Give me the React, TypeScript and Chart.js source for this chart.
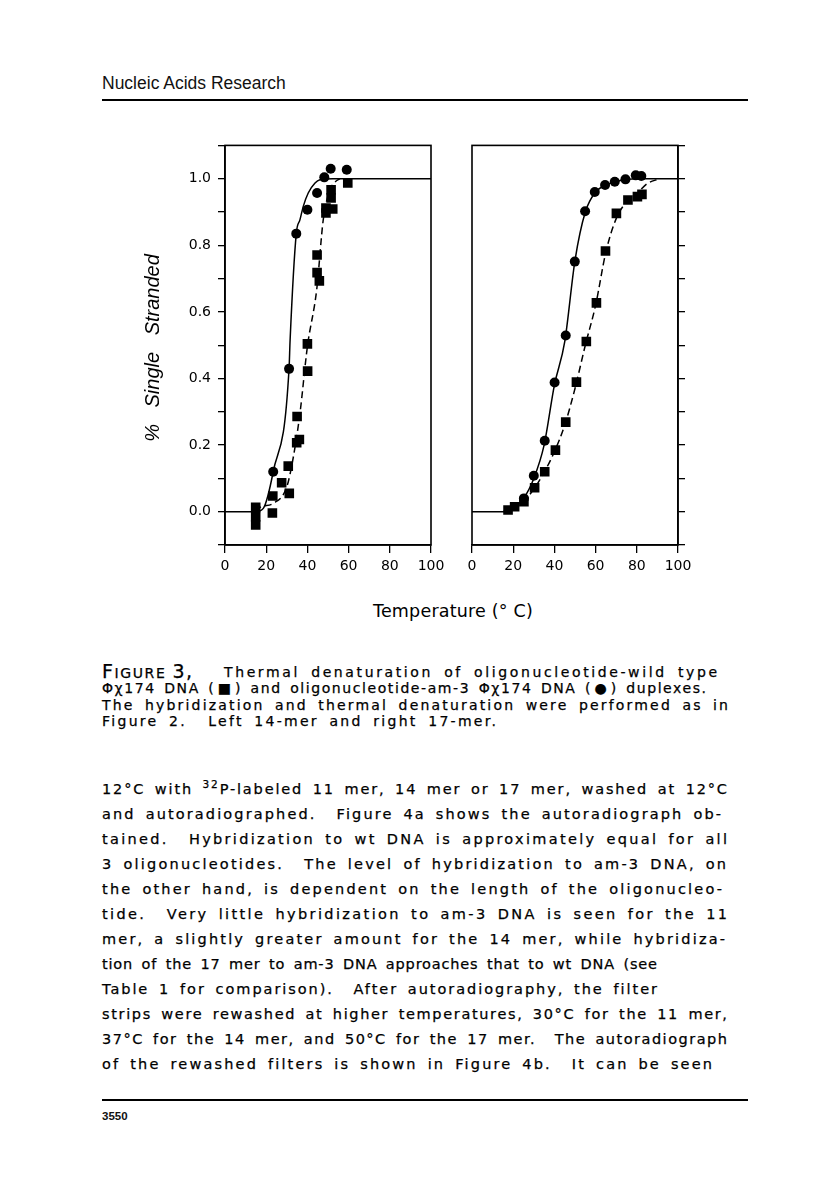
import React, { useEffect, useLayoutEffect, useRef } from 'react';
import { Chart, registerables } from 'chart.js';

Chart.register(...registerables);

// ---------- data ----------
const xTickStep = 20;
const yTickLabels = ['0.0', '0.2', '0.4', '0.6', '0.8', '1.0'];

// Left panel (14-mer)
const leftAm3X = [59.1, 51.3, 48.2, 44.7, 40.0, 34.6, 31.1, 23.4];
const leftAm3Y = [1.027, 1.03, 1.004, 0.957, 0.907, 0.835, 0.429, 0.12];
const leftWtX = [59.6, 51.5, 51.5, 49.0, 52.3, 49.0, 44.7, 44.7, 45.8, 40.0, 40.1, 35.0, 36.1, 34.8, 30.7, 27.5, 23.2, 31.2, 23.0, 14.9, 14.9, 14.9];
const leftWtY = [0.987, 0.967, 0.942, 0.912, 0.909, 0.897, 0.771, 0.718, 0.693, 0.504, 0.422, 0.286, 0.217, 0.207, 0.137, 0.087, 0.047, 0.055, -0.004, 0.013, -0.015, -0.04];
const leftAm3CurveX = [0, 15, 18.6, 23.4, 31.1, 31.6, 34.6, 36.4, 38.0, 40.4, 43.7, 46.1, 52.4, 100];
const leftAm3CurveY = [0, 0, 0.01, 0.12, 0.43, 0.515, 0.835, 0.877, 0.917, 0.957, 0.987, 0.997, 1.0, 1.0];
const leftWtCurveX = [15, 17, 23.4, 30, 33.2, 36.4, 40, 44.5, 47.7, 51, 53.4, 55.8];
const leftWtCurveY = [0, 0.013, 0.025, 0.075, 0.165, 0.296, 0.496, 0.666, 0.877, 0.967, 0.99, 1.0];

// Right panel (17-mer)
const rightAm3X = [82.2, 79.5, 74.5, 69.3, 64.6, 59.6, 54.9, 49.9, 45.5, 40.1, 35.3, 30.0, 25.2];
const rightAm3Y = [1.008, 1.01, 0.998, 0.991, 0.981, 0.96, 0.902, 0.751, 0.529, 0.388, 0.213, 0.108, 0.04];
const rightWtX = [82.5, 80.3, 75.7, 70.1, 64.8, 60.4, 55.5, 50.7, 45.5, 40.5, 35.3, 30.4, 25.2, 20.7, 17.5];
const rightWtY = [0.953, 0.946, 0.936, 0.896, 0.783, 0.627, 0.511, 0.389, 0.269, 0.185, 0.12, 0.072, 0.03, 0.015, 0.005];
const rightAm3CurveX = [0, 15, 20, 25, 30, 35, 40, 45, 50, 55, 60, 65, 70, 75, 82, 100];
const rightAm3CurveY = [0, 0, 0.012, 0.04, 0.1, 0.2, 0.38, 0.51, 0.755, 0.9, 0.96, 0.981, 0.991, 0.998, 1.0, 1.0];
const rightWtCurveX = [15, 20, 25, 30, 35, 40, 45, 50, 55, 60, 65, 70, 75, 80, 85, 91];
const rightWtCurveY = [0, 0.012, 0.03, 0.068, 0.118, 0.18, 0.26, 0.37, 0.5, 0.62, 0.78, 0.88, 0.93, 0.955, 0.985, 1.0];

// Caption lines: [text, left, right]
const captionLines: [string, number, number][] = [
  ['Thermal denaturation of oligonucleotide-wild type', 224, 717],
  ['\u03A6\u03C7174 DNA (\u25A0) and oligonucleotide-am-3 \u03A6\u03C7174 DNA (\u25CF) duplexes.', 102, 706],
  ['The hybridization and thermal denaturation were performed as in', 102, 728],
  ['Figure 2. \u00A0Left 14-mer and right 17-mer.', 102, 496],
];

// Body lines: [text, right edge]
const bodyLines: [string, number][] = [
  ['and autoradiographed. \u00A0Figure 4a shows the autoradiograph ob-', 721],
  ['tained. \u00A0Hybridization to wt DNA is approximately equal for all', 727],
  ['3 oligonucleotides. \u00A0The level of hybridization to am-3 DNA, on', 726],
  ['the other hand, is dependent on the length of the oligonucleo-', 722],
  ['tide. \u00A0Very little hybridization to am-3 DNA is seen for the 11', 727],
  ['mer, a slightly greater amount for the 14 mer, while hybridiza-', 725],
  ['tion of the 17 mer to am-3 DNA approaches that to wt DNA (see', 657],
  ['Table 1 for comparison). \u00A0After autoradiography, the filter', 657],
  ['strips were rewashed at higher temperatures, 30\u00B0C for the 11 mer,', 727],
  ['37\u00B0C for the 14 mer, and 50\u00B0C for the 17 mer. \u00A0The autoradiograph', 727],
  ['of the rewashed filters is shown in Figure 4b. \u00A0It can be seen', 712],
];

// ---------- helpers ----------
const FONT = "'DejaVu Sans', sans-serif";
const TYPE_FONT = "'DejaVu Sans', sans-serif";

const zip = (xs: number[], ys: number[]) => xs.map((x, i) => ({ x, y: ys[i] }));

const framePlugin = {
  id: 'frame',
  afterDatasetsDraw(chart: any) {
    const { ctx, chartArea: a } = chart;
    ctx.save();
    ctx.strokeStyle = '#000';
    ctx.lineWidth = 1.6;
    ctx.strokeRect(a.left, a.top, a.right - a.left, a.bottom - a.top);
    ctx.restore();
  },
};

function buildConfig(
  am3X: number[], am3Y: number[], wtX: number[], wtY: number[],
  am3CX: number[], am3CY: number[], wtCX: number[], wtCY: number[],
  side: 'left' | 'right'
): any {
  const isLeft = side === 'left';
  return {
    type: 'scatter',
    data: {
      datasets: [
        {
          data: zip(am3CX, am3CY), showLine: true, pointRadius: 0, borderColor: '#000',
          borderWidth: 1.5, cubicInterpolationMode: 'monotone', order: 2,
        },
        {
          data: zip(wtCX, wtCY), showLine: true, pointRadius: 0, borderColor: '#000',
          borderWidth: 1.5, borderDash: [7, 4], cubicInterpolationMode: 'monotone', order: 2,
        },
        {
          data: zip(wtX, wtY), pointStyle: 'rect', pointRadius: 6.8, backgroundColor: '#000',
          borderWidth: 0, order: 1,
        },
        {
          data: zip(am3X, am3Y), pointStyle: 'circle', pointRadius: 5, backgroundColor: '#000',
          borderWidth: 0, order: 1,
        },
      ],
    },
    options: {
      responsive: false,
      animation: false,
      events: [],
      layout: isLeft
        ? { padding: { top: 15, right: 19, left: 0, bottom: 0 } }
        : { padding: { top: 15, right: 0, left: 12, bottom: 0 } },
      plugins: { legend: { display: false }, tooltip: { enabled: false }, title: { display: false } },
      scales: {
        x: {
          type: 'linear', min: 0, max: 100, position: 'bottom',
          ticks: {
            stepSize: xTickStep, color: '#000', font: { family: FONT, size: 14 }, padding: 5,
            maxRotation: 0, autoSkip: false, callback: (v: number) => String(v),
          },
          grid: { display: true, drawOnChartArea: false, drawTicks: true, tickLength: 8, color: '#000', lineWidth: 1.3 },
          border: { display: true, color: '#000', width: 1.6 },
          afterFit: (s: any) => { s.height = 35; },
        },
        y: {
          type: 'linear', min: -0.1, max: 1.1, position: side,
          ticks: {
            stepSize: 0.1, color: '#000', font: { family: FONT, size: 14 }, padding: 7, autoSkip: false,
            callback: (v: number) => {
              if (!isLeft) return '';
              const k = Math.round(v * 10);
              if (k >= 0 && k <= 10 && k % 2 === 0) return yTickLabels[k / 2];
              return '';
            },
          },
          grid: { display: true, drawOnChartArea: false, drawTicks: true, tickLength: 7, color: '#000', lineWidth: 1.3 },
          border: { display: true, color: '#000', width: 1.6 },
          afterFit: (s: any) => { s.width = isLeft ? 75 : 32; },
        },
      },
    },
    plugins: [framePlugin],
  };
}

// A typewritten line: spacing fitted so that the line spans [left, right]
function TypeLine(props: { left: number; right: number; top: number; lh: number; size: number; gap?: number; children: any }) {
  const divRef = useRef<HTMLDivElement>(null);
  const spanRef = useRef<HTMLSpanElement>(null);
  const { left, right, top, lh, size, gap = 3 } = props;
  useLayoutEffect(() => {
    const d = divRef.current as HTMLDivElement;
    const s = spanRef.current as HTMLSpanElement;
    d.style.letterSpacing = '0px';
    d.style.textAlignLast = 'left';
    d.style.width = 'auto';
    const w0 = s.getBoundingClientRect().width;
    const text = s.textContent || '';
    const n = text.length;
    const nSp = (text.match(/[ \u00A0]/g) || []).length;
    const target = right - left;
    let ls = (target - w0 - nSp * gap) / n;
    if (ls < 0.2) ls = 0.2;
    d.style.letterSpacing = ls + 'px';
    d.style.width = (target + ls) + 'px';
    d.style.textAlign = 'justify';
    d.style.textAlignLast = 'justify';
  }, []);
  return (
    <div ref={divRef} style={{
      position: 'absolute', left, top, lineHeight: lh + 'px', fontFamily: TYPE_FONT, fontSize: size,
      color: '#000', whiteSpace: 'nowrap', WebkitTextStroke: '0.25px #000',
    }}>
      <span ref={spanRef}>{props.children}</span>
    </div>
  );
}

export default function App() {
  const leftRef = useRef<HTMLCanvasElement>(null);
  const rightRef = useRef<HTMLCanvasElement>(null);

  useEffect(() => {
    const c1 = new Chart(leftRef.current as HTMLCanvasElement, buildConfig(
      leftAm3X, leftAm3Y, leftWtX, leftWtY, leftAm3CurveX, leftAm3CurveY, leftWtCurveX, leftWtCurveY, 'left'));
    const c2 = new Chart(rightRef.current as HTMLCanvasElement, buildConfig(
      rightAm3X, rightAm3Y, rightWtX, rightWtY, rightAm3CurveX, rightAm3CurveY, rightWtCurveX, rightWtCurveY, 'right'));
    return () => { c1.destroy(); c2.destroy(); };
  }, []);

  const capTop = 664;
  const capStep = 16.4;
  const bodyTop = 777;
  const bodyStep = 25;

  return (
    <div style={{ position: 'absolute', left: 0, top: 0, width: 816, height: 1194, background: '#fff', overflow: 'hidden' }}>
      <div style={{ position: 'absolute', left: 102, top: 73.5, fontFamily: "'Liberation Sans', Arial, sans-serif", fontSize: 17.5, lineHeight: '18px', color: '#111', whiteSpace: 'nowrap' }}>
        Nucleic Acids Research
      </div>
      <div style={{ position: 'absolute', left: 102, top: 98.5, width: 646, height: 2, background: '#000' }} />

      <canvas ref={leftRef} width={300} height={450} style={{ position: 'absolute', left: 150, top: 130 }} />
      <canvas ref={rightRef} width={250} height={450} style={{ position: 'absolute', left: 460, top: 130 }} />

      <div style={{
        position: 'absolute', left: 152.4 - 120, top: 348 - 12, width: 240, height: 24, lineHeight: '24px',
        textAlign: 'center', fontFamily: "'Liberation Sans', Arial, sans-serif", fontStyle: 'italic', fontSize: 20,
        wordSpacing: '11px', transform: 'rotate(-90deg)', whiteSpace: 'nowrap', color: '#000',
      }}>
        % Single Stranded
      </div>

      <div style={{
        position: 'absolute', left: 453 - 120, top: 601, width: 240, lineHeight: '20px', textAlign: 'center',
        fontFamily: FONT, fontSize: 17.5, letterSpacing: '0.2px', color: '#000', whiteSpace: 'nowrap',
      }}>
        Temperature (° C)
      </div>

      {/* caption */}
      <div style={{ position: 'absolute', left: 102, top: 662, lineHeight: '18px', fontFamily: TYPE_FONT, letterSpacing: '1.6px', whiteSpace: 'nowrap', color: '#000', WebkitTextStroke: '0.25px #000' }}>
        <span style={{ fontSize: 19 }}>F</span><span style={{ fontSize: 14 }}>IGURE</span>
        <span style={{ fontSize: 14 }}>{'\u00A0'}</span><span style={{ fontSize: 19 }}>3,</span>
      </div>
      {captionLines.map(([t, l, r], i) => (
        <TypeLine key={'c' + i} left={l} right={r} top={capTop + capStep * i} lh={16.5} size={14} gap={3.5}>{t}</TypeLine>
      ))}

      {/* body text */}
      <TypeLine left={102} right={727} top={bodyTop} lh={25} size={14.5} gap={3}>
        12°C with <sup style={{ fontSize: 10.5, lineHeight: 0, verticalAlign: 'baseline', position: 'relative', top: -6 }}>32</sup>P-labeled 11 mer, 14 mer or 17 mer, washed at 12°C
      </TypeLine>
      {bodyLines.map(([t, r], i) => (
        <TypeLine key={'b' + i} left={102} right={r} top={bodyTop + bodyStep * (i + 1)} lh={25} size={14.5} gap={3}>{t}</TypeLine>
      ))}

      <div style={{ position: 'absolute', left: 102, top: 1099, width: 646, height: 1.5, background: '#000' }} />
      <div style={{ position: 'absolute', left: 102, top: 1110, fontFamily: "'Liberation Sans', Arial, sans-serif", fontWeight: 'bold', fontSize: 11.5, lineHeight: '12px', color: '#111' }}>
        3550
      </div>
    </div>
  );
}
